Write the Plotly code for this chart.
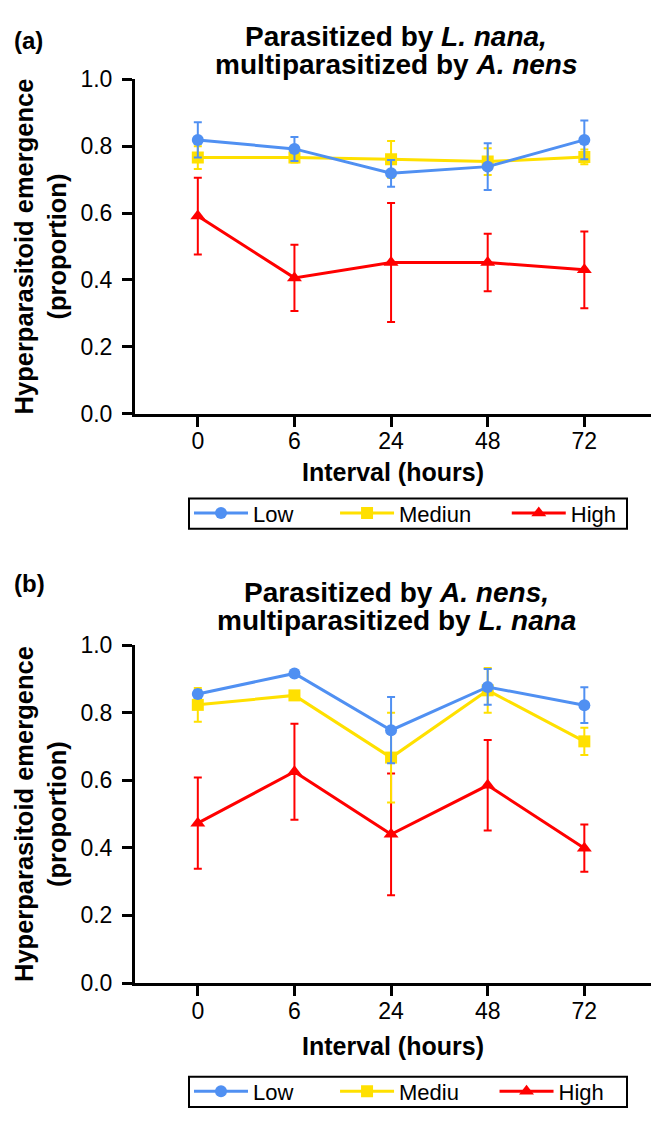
import plotly.graph_objects as go

# Interval categories (hours)
intervals = ["0", "6", "24", "48", "72"]

# Panel (a): parasitized by L. nana, multiparasitized by A. nens
a_low = [0.819, 0.792, 0.719, 0.739, 0.819]
a_low_err = [0.053, 0.036, 0.040, 0.070, 0.058]
a_med = [0.766, 0.766, 0.761, 0.754, 0.768]
a_med_err = [0.034, 0.015, 0.055, 0.040, 0.022]
a_high = [0.591, 0.406, 0.452, 0.452, 0.430]
a_high_err = [0.115, 0.099, 0.178, 0.086, 0.115]

# Panel (b): parasitized by A. nens, multiparasitized by L. nana
b_low = [0.855, 0.916, 0.748, 0.876, 0.822]
b_low_err = [0.012, 0.008, 0.098, 0.053, 0.053]
b_med = [0.823, 0.851, 0.667, 0.866, 0.715]
b_med_err = [0.050, 0.012, 0.133, 0.066, 0.040]
b_high = [0.473, 0.625, 0.440, 0.585, 0.399]
b_high_err = [0.135, 0.142, 0.180, 0.134, 0.070]

a_names = ["Low", "Mediun", "High"]
b_names = ["Low", "Mediu", "High"]

W, H = 665, 1124
PLOT_L, PLOT_R = 135, 651
FONT = "Liberation Sans, Arial, sans-serif"

COLORS = ["#5090f2", "#ffe000", "#ff0000"]
SYMBOLS = ["circle", "square", "triangle-up"]
SIZES = [12, 12, 13]
# trailing spacing after each legend entry text
GAPS = ["\u00a0" * 6, "\u00a0" * 5, ""]


def fx(px):
    return (px - PLOT_L) / (PLOT_R - PLOT_L)


def fy(py):
    return 1 - py / H


fig = go.Figure()


def add_panel(vals, errs, names, xa, ya, legend):
    # draw High first so Low ends up on top
    for i in [2, 1, 0]:
        fig.add_trace(go.Scatter(
            x=intervals, y=vals[i], name=names[i] + GAPS[i],
            mode="lines+markers",
            line=dict(color=COLORS[i], width=3),
            marker=dict(symbol=SYMBOLS[i], size=SIZES[i], color=COLORS[i]),
            error_y=dict(type="data", array=errs[i], color=COLORS[i],
                         thickness=2, width=4),
            xaxis=xa, yaxis=ya, legend=legend, legendrank=i + 1,
            hoverinfo="skip",
        ))


add_panel([a_low, a_med, a_high], [a_low_err, a_med_err, a_high_err],
          a_names, "x", "y", "legend")
add_panel([b_low, b_med, b_high], [b_low_err, b_med_err, b_high_err],
          b_names, "x2", "y2", "legend2")

xstyle = dict(type="category", categoryorder="array", categoryarray=intervals,
              range=[-0.65, 4.69], showline=True, linewidth=3, linecolor="black",
              ticks="outside", ticklen=10, tickwidth=3, tickcolor="black",
              ticklabelstandoff=-5,
              tickfont=dict(size=23, color="black", family=FONT),
              showgrid=False, zeroline=False, fixedrange=True)
ystyle = dict(range=[0, 1.0], dtick=0.2, tickformat=".1f",
              showline=True, linewidth=3, linecolor="black",
              ticks="outside", ticklen=10, tickwidth=3, tickcolor="black",
              ticklabelstandoff=5,
              tickfont=dict(size=23, color="black", family=FONT),
              showgrid=False, zeroline=False, fixedrange=True)

legstyle = dict(orientation="h", xanchor="left", yanchor="middle",
                borderwidth=0, bgcolor="rgba(0,0,0,0)",
                font=dict(size=22, color="black", family=FONT),
                itemwidth=54, traceorder="normal")

fig.update_layout(
    width=W, height=H,
    margin=dict(l=PLOT_L, r=W - PLOT_R, t=0, b=0),
    paper_bgcolor="white", plot_bgcolor="white",
    font=dict(family=FONT, color="black"),
    xaxis=dict(domain=[0, 1], anchor="y", **xstyle),
    yaxis=dict(domain=[fy(410), fy(68)], anchor="x", **ystyle),
    xaxis2=dict(domain=[0, 1], anchor="y2", **xstyle),
    yaxis2=dict(domain=[fy(993), fy(647)], anchor="x2", **ystyle),
    legend=dict(x=fx(189), y=fy(512), **legstyle),
    legend2=dict(x=fx(189), y=fy(1104), **legstyle),
)

# legend frames
shapes = []
for top in (497, 1089):
    shapes.append(dict(type="rect", xref="paper", yref="paper",
                       x0=fx(189), x1=fx(627), y0=fy(top + 31), y1=fy(top),
                       line=dict(color="black", width=2), layer="below"))

ann = []


def text(px, py, s, size, bold=True, angle=0, xanchor="center"):
    ann.append(dict(
        x=fx(px), y=fy(py), xref="paper", yref="paper",
        text=("<b>%s</b>" % s) if bold else s, showarrow=False,
        xanchor=xanchor, yanchor="middle", textangle=angle,
        font=dict(size=size, color="black", family=FONT),
    ))


# panel labels
text(12, 28, "(a)", 24, xanchor="left")
text(12, 584, "(b)", 24, xanchor="left")

# titles
text(396, 24, "Parasitized by <i>L. nana,</i>", 28)
text(396, 53, "multiparasitized by <i>A. nens</i>", 28)
text(396, 593, "Parasitized by <i>A. nens,</i>", 28)
text(396, 622, "multiparasitized by <i>L. nana</i>", 28)

# axis titles
text(393, 470, "Interval (hours)", 25)
text(393, 1057, "Interval (hours)", 25)
text(40, 239, "Hyperparasitoid emergence<br>(proportion)", 25.5, angle=-90)
text(40, 820, "Hyperparasitoid emergence<br>(proportion)", 25.5, angle=-90)

fig.update_layout(annotations=ann, shapes=shapes)

fig.write_html("out.html")
